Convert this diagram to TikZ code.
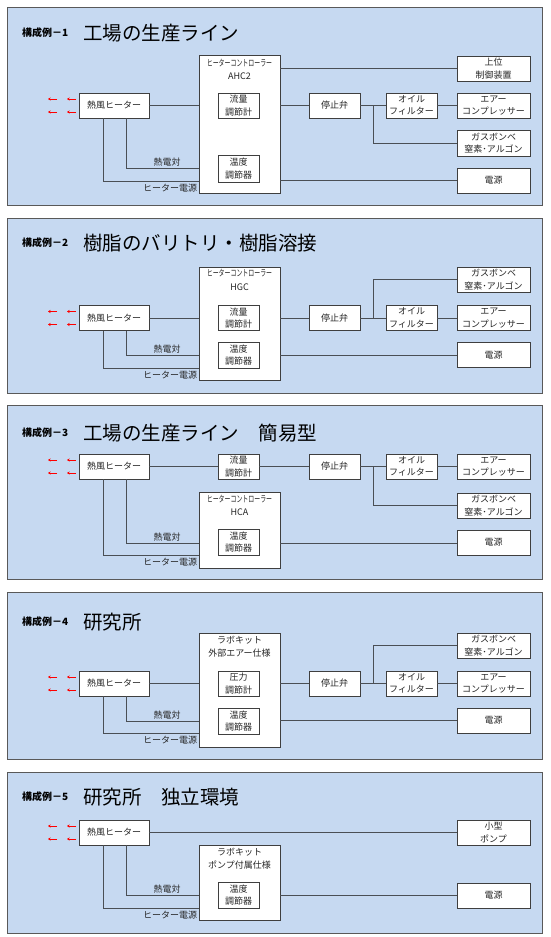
\documentclass[tikz,border=0pt]{standalone}
\usepackage{fontspec}
\setmainfont{Noto Sans CJK JP}
\usetikzlibrary{arrows.meta}
\definecolor{pfill}{HTML}{C6D9F1}
\definecolor{pborder}{HTML}{595959}
\definecolor{bcol}{HTML}{3F3F3F}
\definecolor{lcol}{HTML}{4A4F55}
\definecolor{txt}{HTML}{262626}
\newcommand\boxfont{\fontsize{9}{12.5}\selectfont}
\newcommand\bigtitle{\fontsize{19.5}{22}\selectfont}
\newcommand\smalltitle{\fontsize{10}{12}\selectfont\bfseries}
\newcommand\narrowtxt[1]{\scalebox{0.66}[1]{#1}}
\tikzset{
  panel/.style={draw=pborder, fill=pfill, line width=1pt},
  blk/.style={draw=bcol, fill=white, line width=0.8pt, inner sep=0pt, align=center, font=\boxfont, text=txt},
  link/.style={draw=lcol, line width=0.9pt},
  lab/.style={font=\boxfont, text=txt, inner sep=0pt},
  harrow/.style={draw=red, line width=0.6pt, -{Stealth[length=2.6pt,width=3.2pt]}},
  ttl/.style={anchor=west, inner sep=0pt, text=black},
}
\begin{document}
\begin{tikzpicture}[x=1pt,y=-1pt]
\useasboundingbox (0,0) rectangle (550,937);
\fill[white] (0,0) rectangle (550,937);
% ================= Panel 1 =================
\draw[panel] (7,7) rectangle (542,205);
\node[ttl, font=\smalltitle] (t1a) at (22,33) {構成例－1};
\node[ttl, font=\bigtitle] (t1b) at (83,33) {工場の生産ライン};
\node[blk, minimum width=70pt, minimum height=25pt] (h1) at (114,105.5) {熱風ヒーター};
\node[blk, minimum width=81pt, minimum height=138pt] (c1) at (239.5,124) {};
\node[lab] (c1t) at (239.5,63) {\narrowtxt{ヒーターコントローラー}};
\node[lab] (c1m) at (239.5,76) {AHC2};
\node[blk, minimum width=41pt, minimum height=25pt] (f1) at (238.5,105.5) {流量\\調節計};
\node[blk, minimum width=41pt, minimum height=27pt] (k1) at (238.5,168.5) {温度\\調節器};
\node[blk, minimum width=73pt, minimum height=25pt] (u1) at (493.5,68.5) {上位\\制御装置};
\node[blk, minimum width=51pt, minimum height=25pt] (s1) at (334.5,105.5) {停止弁};
\node[blk, minimum width=51pt, minimum height=25pt] (o1) at (411.5,105.5) {オイル\\フィルター};
\node[blk, minimum width=73pt, minimum height=25pt] (a1) at (493.5,105.5) {エアー\\コンプレッサー};
\node[blk, minimum width=73pt, minimum height=26pt] (g1) at (493.5,143) {ガスボンベ\\窒素･アルゴン};
\node[blk, minimum width=73pt, minimum height=25pt] (e1) at (493.5,180.5) {電源};
\coordinate (tc1) at (126,168);
\coordinate (pw1) at (103,181);
\coordinate (br1) at (373,105.5);
\draw[link] (h1.east) -- (h1.east -| c1.west);
\draw[link] (h1.south -| tc1) |- (c1.west |- tc1);
\draw[link] (h1.south -| pw1) |- (c1.west |- pw1);
\node[lab, anchor=south] (l1a) at (167,166) {熱電対};
\node[lab, anchor=north] (l1b) at (170,183.5) {ヒーター電源};
\draw[link] (c1.east |- u1) -- (u1.west);
\draw[link] (c1.east |- s1) -- (s1.west);
\draw[link] (s1.east) -- (o1.west);
\draw[link] (o1.east) -- (a1.west);
\draw[link] (br1) |- (g1.west);
\draw[link] (c1.east |- e1) -- (e1.west);
\coordinate (r1a) at (57,99); \coordinate (r1b) at (76,99);
\coordinate (r1c) at (57,112); \coordinate (r1d) at (76,112);
\draw[harrow] (r1a) -- ++(-9,0);
\draw[harrow] (r1b) -- ++(-9,0);
\draw[harrow] (r1c) -- ++(-9,0);
\draw[harrow] (r1d) -- ++(-9,0);
% ================= Panel 2 =================
\draw[panel] (7,218) rectangle (542,393);
\node[ttl, font=\smalltitle] (t2a) at (22,243) {構成例－2};
\node[ttl, font=\bigtitle] (t2b) at (83,243) {樹脂のバリトリ・樹脂溶接};
\node[blk, minimum width=70pt, minimum height=25pt] (h2) at (114,318) {熱風ヒーター};
\node[blk, minimum width=81pt, minimum height=113pt] (c2) at (239.5,323.5) {};
\node[lab] (c2t) at (239.5,273) {\narrowtxt{ヒーターコントローラー}};
\node[lab] (c2m) at (239.5,287) {HGC};
\node[blk, minimum width=41pt, minimum height=25pt] (f2) at (238.5,318) {流量\\調節計};
\node[blk, minimum width=41pt, minimum height=26pt] (k2) at (238.5,355) {温度\\調節器};
\node[blk, minimum width=73pt, minimum height=25pt] (g2) at (493.5,279.5) {ガスボンベ\\窒素･アルゴン};
\node[blk, minimum width=51pt, minimum height=25pt] (s2) at (334.5,318) {停止弁};
\node[blk, minimum width=51pt, minimum height=25pt] (o2) at (411.5,318) {オイル\\フィルター};
\node[blk, minimum width=73pt, minimum height=25pt] (a2) at (493.5,318) {エアー\\コンプレッサー};
\node[blk, minimum width=73pt, minimum height=25pt] (e2) at (493.5,355) {電源};
\coordinate (tc2) at (126,355);
\coordinate (pw2) at (103,368);
\coordinate (br2) at (373,318);
\draw[link] (h2.east) -- (h2.east -| c2.west);
\draw[link] (h2.south -| tc2) |- (c2.west |- tc2);
\draw[link] (h2.south -| pw2) |- (c2.west |- pw2);
\node[lab, anchor=south] (l2a) at (167,353) {熱電対};
\node[lab, anchor=north] (l2b) at (170,370.5) {ヒーター電源};
\draw[link] (c2.east |- s2) -- (s2.west);
\draw[link] (s2.east) -- (o2.west);
\draw[link] (o2.east) -- (a2.west);
\draw[link] (br2) |- (g2.west);
\draw[link] (c2.east |- e2) -- (e2.west);
\coordinate (r2a) at (57,311.5); \coordinate (r2b) at (76,311.5);
\coordinate (r2c) at (57,324.5); \coordinate (r2d) at (76,324.5);
\draw[harrow] (r2a) -- ++(-9,0);
\draw[harrow] (r2b) -- ++(-9,0);
\draw[harrow] (r2c) -- ++(-9,0);
\draw[harrow] (r2d) -- ++(-9,0);
% ================= Panel 3 =================
\draw[panel] (7,405) rectangle (542,579);
\node[ttl, font=\smalltitle] (t3a) at (22,433) {構成例－3};
\node[ttl, font=\bigtitle] (t3b) at (83,433) {工場の生産ライン　簡易型};
\node[blk, minimum width=70pt, minimum height=25pt] (h3) at (114,466.5) {熱風ヒーター};
\node[blk, minimum width=41pt, minimum height=25pt] (f3) at (238.5,466.5) {流量\\調節計};
\node[blk, minimum width=51pt, minimum height=25pt] (s3) at (334.5,466.5) {停止弁};
\node[blk, minimum width=51pt, minimum height=25pt] (o3) at (411.5,466.5) {オイル\\フィルター};
\node[blk, minimum width=73pt, minimum height=25pt] (a3) at (493.5,466.5) {エアー\\コンプレッサー};
\node[blk, minimum width=73pt, minimum height=25pt] (g3) at (493.5,505.5) {ガスボンベ\\窒素･アルゴン};
\node[blk, minimum width=81pt, minimum height=76pt] (c3) at (239.5,530) {};
\node[lab] (c3t) at (239.5,499) {\narrowtxt{ヒーターコントローラー}};
\node[lab] (c3m) at (239.5,512) {HCA};
\node[blk, minimum width=41pt, minimum height=26pt] (k3) at (238.5,542) {温度\\調節器};
\node[blk, minimum width=73pt, minimum height=25pt] (e3) at (493.5,542.5) {電源};
\coordinate (tc3) at (126,543);
\coordinate (pw3) at (103,555);
\coordinate (br3) at (373,466.5);
\draw[link] (h3.east) -- (f3.west);
\draw[link] (f3.east) -- (s3.west);
\draw[link] (h3.south -| tc3) |- (c3.west |- tc3);
\draw[link] (h3.south -| pw3) |- (c3.west |- pw3);
\node[lab, anchor=south] (l3a) at (167,541) {熱電対};
\node[lab, anchor=north] (l3b) at (170,557.5) {ヒーター電源};
\draw[link] (s3.east) -- (o3.west);
\draw[link] (o3.east) -- (a3.west);
\draw[link] (br3) |- (g3.west);
\draw[link] (c3.east |- tc3) -- (e3.west |- tc3);
\coordinate (r3a) at (57,460); \coordinate (r3b) at (76,460);
\coordinate (r3c) at (57,473); \coordinate (r3d) at (76,473);
\draw[harrow] (r3a) -- ++(-9,0);
\draw[harrow] (r3b) -- ++(-9,0);
\draw[harrow] (r3c) -- ++(-9,0);
\draw[harrow] (r3d) -- ++(-9,0);
% ================= Panel 4 =================
\draw[panel] (7,592) rectangle (542,759);
\node[ttl, font=\smalltitle] (t4a) at (22,622) {構成例－4};
\node[ttl, font=\bigtitle] (t4b) at (83,622) {研究所};
\node[blk, minimum width=70pt, minimum height=25pt] (h4) at (114,683.5) {熱風ヒーター};
\node[blk, minimum width=81pt, minimum height=114pt] (c4) at (239.5,690) {};
\node[lab] (c4t) at (239.5,640) {ラボキット};
\node[lab] (c4m) at (239.5,653) {外部エアー仕様};
\node[blk, minimum width=41pt, minimum height=25pt] (f4) at (238.5,683.5) {圧力\\調節計};
\node[blk, minimum width=41pt, minimum height=26pt] (k4) at (238.5,721) {温度\\調節器};
\node[blk, minimum width=73pt, minimum height=25pt] (g4) at (493.5,645.5) {ガスボンベ\\窒素･アルゴン};
\node[blk, minimum width=51pt, minimum height=25pt] (s4) at (334.5,683.5) {停止弁};
\node[blk, minimum width=51pt, minimum height=25pt] (o4) at (411.5,683.5) {オイル\\フィルター};
\node[blk, minimum width=73pt, minimum height=25pt] (a4) at (493.5,683.5) {エアー\\コンプレッサー};
\node[blk, minimum width=73pt, minimum height=25pt] (e4) at (493.5,720.5) {電源};
\coordinate (tc4) at (126,721);
\coordinate (pw4) at (103,733);
\coordinate (br4) at (373,683.5);
\draw[link] (h4.east) -- (h4.east -| c4.west);
\draw[link] (h4.south -| tc4) |- (c4.west |- tc4);
\draw[link] (h4.south -| pw4) |- (c4.west |- pw4);
\node[lab, anchor=south] (l4a) at (167,719) {熱電対};
\node[lab, anchor=north] (l4b) at (170,735.5) {ヒーター電源};
\draw[link] (c4.east |- s4) -- (s4.west);
\draw[link] (s4.east) -- (o4.west);
\draw[link] (o4.east) -- (a4.west);
\draw[link] (br4) |- (g4.west);
\draw[link] (c4.east |- e4) -- (e4.west);
\coordinate (r4a) at (57,677); \coordinate (r4b) at (76,677);
\coordinate (r4c) at (57,690); \coordinate (r4d) at (76,690);
\draw[harrow] (r4a) -- ++(-9,0);
\draw[harrow] (r4b) -- ++(-9,0);
\draw[harrow] (r4c) -- ++(-9,0);
\draw[harrow] (r4d) -- ++(-9,0);
% ================= Panel 5 =================
\draw[panel] (7,772) rectangle (542,933);
\node[ttl, font=\smalltitle] (t5a) at (22,797) {構成例－5};
\node[ttl, font=\bigtitle] (t5b) at (83,797) {研究所　独立環境};
\node[blk, minimum width=70pt, minimum height=25pt] (h5) at (114,832.5) {熱風ヒーター};
\node[blk, minimum width=73pt, minimum height=25pt] (p5) at (493.5,832.5) {小型\\ポンプ};
\node[blk, minimum width=81pt, minimum height=75pt] (c5) at (239.5,882.5) {};
\node[lab] (c5t) at (239.5,852) {ラボキット};
\node[lab] (c5m) at (239.5,865) {ポンプ付属仕様};
\node[blk, minimum width=41pt, minimum height=26pt] (k5) at (238.5,895) {温度\\調節器};
\node[blk, minimum width=73pt, minimum height=25pt] (e5) at (493.5,895.5) {電源};
\coordinate (tc5) at (126,895);
\coordinate (pw5) at (103,908);
\draw[link] (h5.east) -- (p5.west);
\draw[link] (h5.south -| tc5) |- (c5.west |- tc5);
\draw[link] (h5.south -| pw5) |- (c5.west |- pw5);
\node[lab, anchor=south] (l5a) at (167,893) {熱電対};
\node[lab, anchor=north] (l5b) at (170,910.5) {ヒーター電源};
\draw[link] (c5.east |- tc5) -- (e5.west |- tc5);
\coordinate (r5a) at (57,826); \coordinate (r5b) at (76,826);
\coordinate (r5c) at (57,839); \coordinate (r5d) at (76,839);
\draw[harrow] (r5a) -- ++(-9,0);
\draw[harrow] (r5b) -- ++(-9,0);
\draw[harrow] (r5c) -- ++(-9,0);
\draw[harrow] (r5d) -- ++(-9,0);
\end{tikzpicture}
\end{document}
